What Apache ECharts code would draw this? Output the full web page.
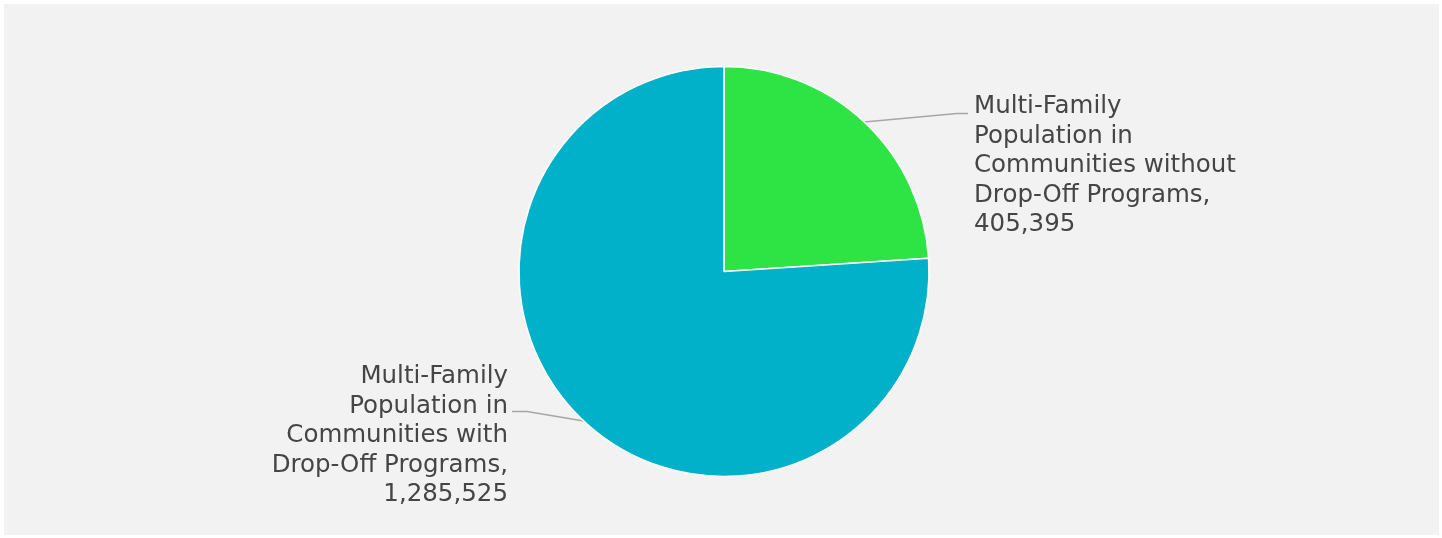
<!DOCTYPE html>
<html>
<head>
<meta charset="utf-8">
<script src="https://cdn.jsdelivr.net/npm/echarts@6/dist/echarts.min.js"></script>
<style>
  html, body { margin: 0; padding: 0; background: #ffffff; }
  #chart { width: 1442px; height: 538px; }
</style>
</head>
<body>
<div id="chart"></div>
<script>
// Multi-family population split by drop-off program availability
const categories = [
  'Multi-Family\nPopulation in\nCommunities without\nDrop-Off Programs',
  'Multi-Family\nPopulation in\nCommunities with\nDrop-Off Programs'
];
const populations = [405395, 1285525];
const sliceColors = ['#2ee344', '#00b1c9'];

const CX = 724, CY = 271.5, R = 205;

const chart = echarts.init(document.getElementById('chart'), null, { renderer: 'canvas' });

const fmt = v => v.toLocaleString('en-US');

chart.setOption({
  backgroundColor: '#ffffff',
  animation: false,
  graphic: [{
    type: 'rect',
    z: -10,
    silent: true,
    shape: { x: 4, y: 4, width: 1435, height: 531 },
    style: { fill: '#f2f2f2' }
  }],
  series: [{
    type: 'pie',
    center: [CX, CY],
    radius: R,
    startAngle: 90,
    clockwise: true,
    data: categories.map((name, i) => ({
      name,
      value: populations[i],
      itemStyle: { color: sliceColors[i] }
    })),
    itemStyle: { borderColor: '#ffffff', borderWidth: 1.5 },
    label: {
      show: true,
      formatter: p => p.name + ',\n' + fmt(p.value),
      fontFamily: 'DejaVu Sans',
      fontSize: 24.5,
      lineHeight: 29.5,
      color: '#454545'
    },
    labelLine: {
      show: true,
      length: 10,
      length2: 40,
      lineStyle: { color: '#a6a6a6', width: 1.5 }
    },
    labelLayout: function (params) {
      const p0 = params.labelLinePoints[0];
      if (p0[0] > CX) {
        // label to the right, leader meets the first text line
        const x = 974, y = 92;
        return {
          x, y, align: 'left', verticalAlign: 'top',
          labelLinePoints: [p0, [x - 17, y + 21.5], [x - 6, y + 21.5]]
        };
      }
      // label to the left, leader meets the second text line
      const x = 508, y = 362;
      return {
        x, y, align: 'right', verticalAlign: 'top',
        labelLinePoints: [p0, [x + 19, y + 49.5], [x + 4, y + 49.5]]
      };
    }
  }]
});
</script>
</body>
</html>
